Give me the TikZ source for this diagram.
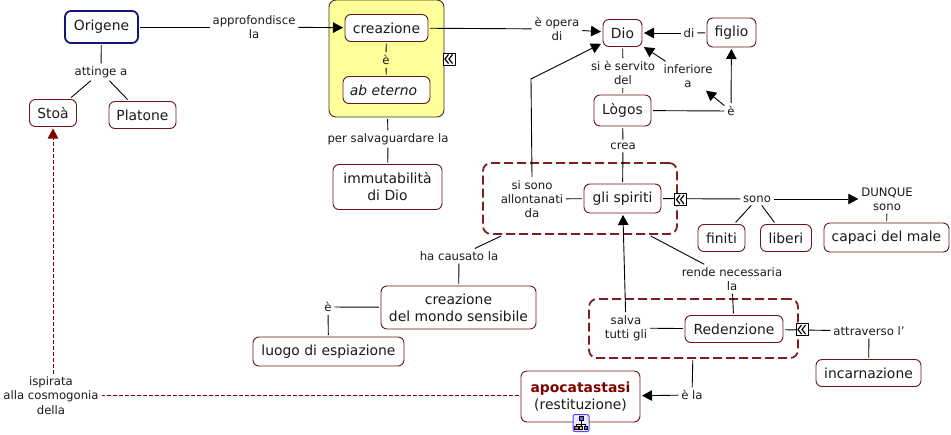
\documentclass[tikz,border=0pt]{standalone}
\usepackage{fontspec}
\setmainfont{DejaVu Sans}
\usetikzlibrary{arrows.meta}
\definecolor{maroonline}{HTML}{6E1414}
\definecolor{groupdash}{HTML}{7D1F1F}
\definecolor{navyline}{HTML}{14147D}
\definecolor{paleyellow}{HTML}{FFFF99}
\definecolor{darkred}{HTML}{800000}
\definecolor{inktext}{HTML}{1A1A1A}
\tikzset{
  concept/.style={draw=maroonline,line width=0.9pt,fill=white,rounded corners=6pt,align=center,
    inner sep=0pt,outer sep=2pt,text=inktext,font=\fontsize{13.9}{17}\selectfont},
  rootconcept/.style={concept,draw=navyline,line width=1.8pt},
  linkword/.style={align=center,inner sep=0pt,outer sep=3pt,text=inktext,font=\fontsize{11.7}{14.3}\selectfont},
  linkline/.style={line width=0.9pt,black},
  arrowline/.style={linkline,-{Triangle[length=10pt,width=10.5pt]}},
  groupbox/.style={draw=groupdash,line width=1.8pt,dash pattern=on 9pt off 4pt,rounded corners=8pt,outer sep=2pt,inner sep=0pt},
  yellowbox/.style={draw=black!80!olive,line width=0.9pt,fill=paleyellow,rounded corners=7pt,outer sep=2pt,inner sep=0pt},
  crossdash/.style={line width=1pt,darkred,dash pattern=on 4pt off 2pt},
  expandmark/.pic={
    \filldraw[draw=black,fill=white,line width=0.9pt] (-6,-6) rectangle (6,6);
    \draw[line width=1.2pt,black] (-0.5,-4.5) -- (-4,0) -- (-0.5,4.5);
    \draw[line width=1.2pt,black] (3.5,-4.5) -- (0,0) -- (3.5,4.5);
  },
  mapmark/.pic={
    \filldraw[draw=blue!70!white,fill=blue!8,line width=1pt,rounded corners=2pt] (-8,-8.5) rectangle (8,8.5);
    \draw[line width=0.7pt,black] (0,-3) -- (0,1) (-4.5,3) -- (-4.5,1) -- (4.5,1) -- (4.5,3) (0,1) -- (0,3);
    \filldraw[draw=black,fill=blue!60,line width=0.4pt] (-2,-6.5) rectangle (2,-3);
    \filldraw[draw=black,fill=red!60,line width=0.4pt] (-6.5,3) rectangle (-3,6.5);
    \filldraw[draw=black,fill=yellow!70!orange,line width=0.4pt] (-1.5,3) rectangle (1.5,6.5);
    \filldraw[draw=black,fill=blue!60,line width=0.4pt] (3,3) rectangle (6.5,6.5);
  }
}
\begin{document}
\begin{tikzpicture}[x=1pt,y=-1pt]
\useasboundingbox (0,0) rectangle (951,434);
% groups
\node[yellowbox,minimum width=115pt,minimum height=117pt] (yellow) at (386.5,58.5) {};
\node[groupbox,minimum width=194pt,minimum height=71pt] (groupspiriti) at (580,198.5) {};
\node[groupbox,minimum width=209pt,minimum height=59pt] (groupred) at (693.5,328.5) {};
% concepts
\node[rootconcept,minimum width=73pt,minimum height=32pt] (origene) at (101.5,27) {Origene};
\node[concept,minimum width=47pt,minimum height=27pt] (stoa) at (53,113) {Stoà};
\node[concept,minimum width=67pt,minimum height=27pt] (platone) at (142.5,115) {Platone};
\node[concept,minimum width=83pt,minimum height=27pt] (creazione) at (386.5,28) {creazione};
\node[concept,minimum width=87pt,minimum height=27pt] (abeterno) at (386.5,90) {\hspace*{-6pt}\itshape ab eterno};
\node[concept,minimum width=109pt,minimum height=45pt] (immutab) at (387.5,187) {immutabilità\\di Dio};
\node[concept,minimum width=39pt,minimum height=27pt] (dio) at (622.5,33) {Dio};
\node[concept,minimum width=49pt,minimum height=29pt] (figlio) at (731.5,32.5) {figlio};
\node[concept,minimum width=57pt,minimum height=31pt] (logos) at (622.5,110.5) {Lògos};
\node[concept,minimum width=77pt,minimum height=29pt] (spiriti) at (622.5,198.5) {gli spiriti};
\node[concept,minimum width=47pt,minimum height=27pt] (finiti) at (721.5,238) {finiti};
\node[concept,minimum width=51pt,minimum height=27pt] (liberi) at (786,238) {liberi};
\node[concept,minimum width=125pt,minimum height=29pt] (capaci) at (886.5,237.5) {capaci del male};
\node[concept,minimum width=98pt,minimum height=27pt] (redenzione) at (734,329) {Redenzione};
\node[concept,minimum width=105pt,minimum height=27pt] (incarnazione) at (868.5,373) {incarnazione};
\node[concept,minimum width=119pt,minimum height=51pt] (apoc) at (580.5,396.5) {{\bfseries\color{darkred}apocatastasi}\\(restituzione)};
\node[concept,minimum width=155pt,minimum height=43pt] (mondo) at (458.5,307.5) {creazione\\del mondo sensibile};
\node[concept,minimum width=151pt,minimum height=29pt] (luogo) at (328.5,351.5) {luogo di espiazione};
% link words
\node[linkword] (approf) at (254,27) {approfondisce\\la};
\node[linkword] (attinge) at (101,72) {attinge a};
\node[linkword] (eA) at (386,60) {è};
\node[linkword] (salvag) at (388,139) {per salvaguardare la};
\node[linkword] (opera) at (557,29) {è opera\\di};
\node[linkword] (di) at (689,33) {di};
\node[linkword] (servito) at (623,73) {si è servito\\del};
\node[linkword] (inferiore) at (688,76) {inferiore\\a};
\node[linkword] (eB) at (731,111) {è};
\node[linkword] (crea) at (623,146) {crea};
\node[linkword] (allont) at (532,199) {si sono\\allontanati\\da};
\node[linkword] (sono) at (757,199) {sono};
\node[linkword] (dunque) at (887,199) {DUNQUE\\sono};
\node[linkword] (causato) at (459,256) {ha causato la};
\node[linkword] (rende) at (732,279) {rende necessaria\\la};
\node[linkword] (salva) at (626,328) {salva\\tutti gli};
\node[linkword] (attrav) at (869,331) {attraverso l\symbol{"0027}};
\node[linkword] (ela) at (692,395) {è la};
\node[linkword] (eC) at (328,307) {è};
\node[linkword] (ispirata) at (51,395.5) {ispirata\\alla cosmogonia\\della};
\coordinate (bend) at (531,79);
% connectors
\draw[linkline] (origene) -- (approf);
\draw[arrowline] (approf) -- (creazione);
\draw[linkline] (origene) -- (attinge);
\draw[linkline] (attinge) -- (stoa);
\draw[linkline] (attinge) -- (platone);
\draw[linkline] (creazione) -- (eA);
\draw[linkline] (eA) -- (abeterno);
\draw[linkline] (yellow) -- (salvag);
\draw[linkline] (salvag) -- (immutab);
\draw[linkline] (creazione) -- (opera);
\draw[arrowline] (opera) -- (dio);
\draw[linkline] (figlio) -- (di);
\draw[arrowline] (di) -- (dio);
\draw[linkline] (dio) -- (servito);
\draw[linkline] (servito) -- (logos);
\draw[arrowline] (inferiore) -- (dio);
\draw[linkline] (logos) -- (eB);
\draw[arrowline] (eB) -- (inferiore);
\draw[arrowline] (eB) -- (figlio);
\draw[linkline] (logos) -- (crea);
\draw[linkline] (crea) -- (spiriti);
\draw[linkline] (spiriti) -- (allont);
\draw[arrowline] (allont.north) -- (bend) -- (dio);
\draw[linkline] (spiriti) -- (sono);
\draw[arrowline] (sono) -- (dunque);
\draw[linkline] (sono) -- (finiti);
\draw[linkline] (sono) -- (liberi);
\draw[linkline] (dunque) -- (capaci);
\draw[linkline] (groupspiriti) -- (causato);
\draw[linkline] (causato) -- (mondo);
\draw[linkline] (mondo) -- (eC);
\draw[linkline] (eC) -- (luogo);
\draw[linkline] (groupspiriti) -- (rende);
\draw[linkline] (rende) -- (redenzione);
\draw[linkline] (redenzione) -- (salva);
\draw[arrowline] (salva) -- (spiriti);
\draw[linkline] (redenzione) -- (attrav);
\draw[linkline] (attrav) -- (incarnazione);
\draw[linkline] (groupred) -- (ela);
\draw[arrowline] (ela) -- (apoc);
\draw[crossdash] (apoc.west |- ispirata) -- (ispirata);
\draw[crossdash,-{Triangle[length=10pt,width=10.5pt]}] (stoa |- ispirata.north) -- (stoa);
% icons
\pic at (449,59) {expandmark};
\pic at (680.5,199.5) {expandmark};
\pic at (802,329.5) {expandmark};
\pic at (581,423) {mapmark};
\end{tikzpicture}
\end{document}
